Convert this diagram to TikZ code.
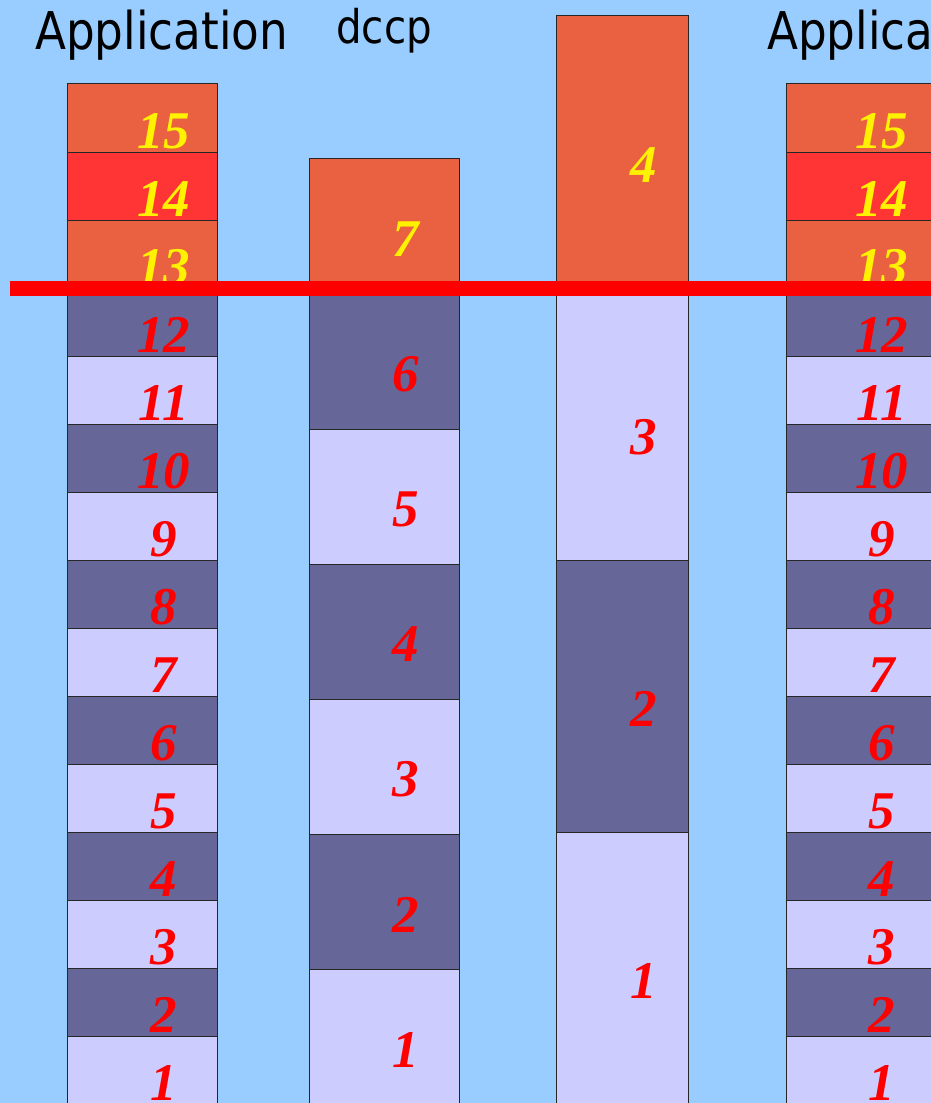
\documentclass[tikz,border=0pt]{standalone}
\usepackage{fontspec}
\setmainfont{Liberation Serif}
\newfontfamily\titlefont[FakeStretch=0.87]{DejaVu Sans}
\definecolor{skyback}{HTML}{99CCFF}
\definecolor{segorange}{HTML}{E96140}
\definecolor{segred}{HTML}{FF3535}
\definecolor{segdark}{HTML}{666699}
\definecolor{seglight}{HTML}{CCCCFF}
\tikzset{
	seg/.style = {draw=black!85, line width=0.7pt, inner sep=0pt},
	segnum/.style = {inner sep=0pt, xshift=0.525cm, yshift=-0.325cm,
		font=\fontsize{37.7}{40}\selectfont\bfseries\itshape},
	title/.style = {inner sep=0pt, anchor=base west, font=\titlefont\fontsize{37}{40}\selectfont}
}
\begin{document}
\begin{tikzpicture}[x=0.025cm, y=-0.025cm]
	\useasboundingbox (0,0) rectangle (931,1103);
	\clip (0,0) rectangle (931,1103);
	\fill [skyback] (0,0) rectangle (931,1103);
	% headings
	\node [title] (app left) at (35,50) {Application};
	\node [title, font=\titlefont\fontsize{33}{36}\selectfont] (dccp) at (336,44) {dccp};
	\node [title] (app right) at (767,50) {Application};
	% application stacks, left and right
	\foreach \stack/\cx in {appl/142.5, appr/860.5}
		\foreach \i/\fillc/\numc in {1/seglight/red, 2/segdark/red, 3/seglight/red, 4/segdark/red,
			5/seglight/red, 6/segdark/red, 7/seglight/red, 8/segdark/red, 9/seglight/red,
			10/segdark/red, 11/seglight/red, 12/segdark/red, 13/segorange/yellow,
			14/segred/yellow, 15/segorange/yellow} {
		\node [seg, fill=\fillc, minimum width=3.725cm, minimum height=1.7cm]
			(\stack-\i) at (\cx, {84+(15-\i)*68+34}) {};
		\node [segnum, text=\numc] (\stack-num-\i) at (\stack-\i.center) {\i};
	}
	% dccp packets
	\foreach \i/\fillc/\numc in {1/seglight/red, 2/segdark/red, 3/seglight/red, 4/segdark/red,
		5/seglight/red, 6/segdark/red, 7/segorange/yellow} {
		\node [seg, fill=\fillc, minimum width=3.725cm, minimum height=3.375cm]
			(dccp-\i) at (384.5, {159+(7-\i)*135+67.5}) {};
		\node [segnum, text=\numc] (dccp-num-\i) at (dccp-\i.center) {\i};
	}
	% large packets
	\foreach \i/\fillc/\numc in {1/seglight/red, 2/segdark/red, 3/seglight/red, 4/segorange/yellow} {
		\node [seg, fill=\fillc, minimum width=3.275cm, minimum height=6.8cm]
			(big-\i) at (622.5, {16+(4-\i)*272+136}) {};
		\node [segnum, text=\numc] (big-num-\i) at (big-\i.center) {\i};
	}
	% cut line
	\coordinate (cut west) at (10,288.5);
	\coordinate (cut east) at (931,288.5);
	\draw [red, line width=0.375cm] (cut west) -- (cut east);
\end{tikzpicture}
\end{document}
